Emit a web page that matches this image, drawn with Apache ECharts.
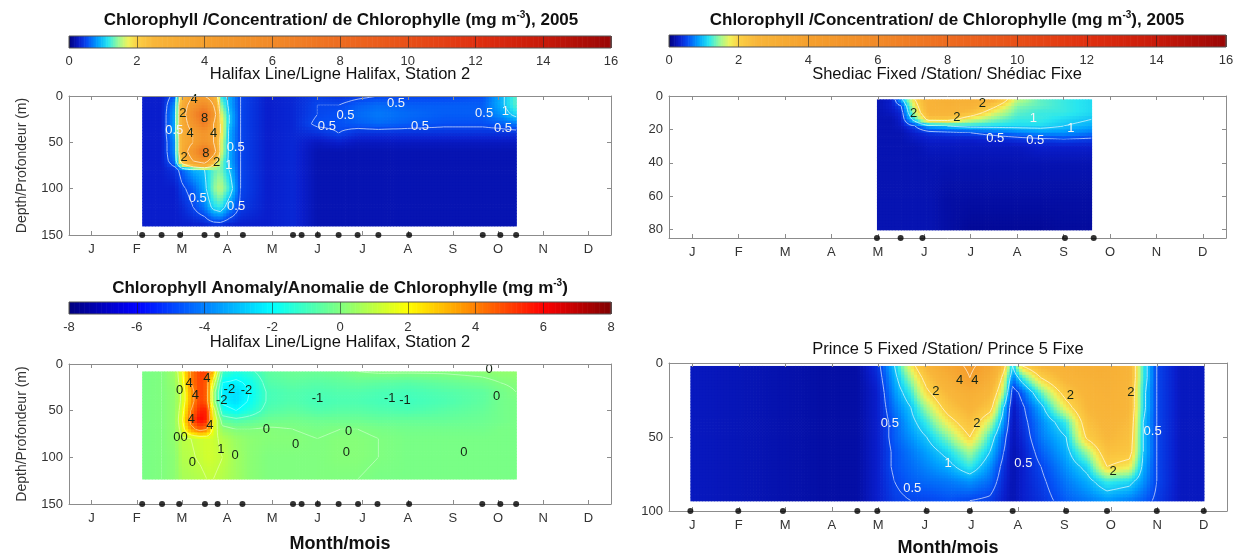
<!DOCTYPE html>
<html><head><meta charset="utf-8">
<script src="https://cdn.jsdelivr.net/npm/echarts@6/dist/echarts.min.js"></script>
<style>html,body{margin:0;padding:0;background:#fff}#c{width:1241px;height:558px}</style>
</head><body><div id="c"></div>
<script>
// ---------------- DATA ----------------
const monthLabels = ['J','F','M','A','M','J','J','A','S','O','N','D'];
const monthTicks = [0.5,1.5,2.5,3.5,4.5,5.5,6.5,7.5,8.5,9.5,10.5,11.5]; // month centres (0 = 1 Jan)
const chlBarTicks = [0,2,4,6,8,10,12,14,16];
const anoBarTicks = [-8,-6,-4,-2,0,2,4,6,8];

// Halifax Line Station 2 - chlorophyll (mg m-3); one column per date, values by depth
const hfxDates  = [1.62,2.05,2.35,2.5,2.75,3.0,3.2,3.35,3.55,3.8,4.4,4.96,5.5,5.97,6.4,6.85,7.5,8.3,9.16,9.55,9.9];
const hfxDepths = [0,10,20,30,40,50,60,70,80,100,120,140];
const hfxChl = [
  [0.3,0.3,0.3,0.3,0.3,0.3,0.3,0.3,0.3,0.3,0.3,0.3],
  [0.3,0.3,0.3,0.3,0.3,0.3,0.3,0.3,0.3,0.3,0.3,0.3],
  [0.6,0.8,0.9,0.9,0.9,0.8,0.8,0.7,0.4,0.3,0.3,0.3],
  [2.5,3,3,3,3,3,3,2.5,0.6,0.45,0.35,0.3],
  [4,5,6,5,4,4,5,4,0.9,0.6,0.5,0.3],
  [4,6,8,7,5,5,8,5,1.0,0.9,0.7,0.3],
  [3,4,5,4,4,4,5,2.5,1.3,1.4,1.1,0.35],
  [1.2,1.5,1.8,2,2,1.8,1.8,1.5,1.4,1.6,1.2,0.35],
  [0.9,0.9,1.0,1.0,0.9,0.9,0.9,0.9,1.0,1.2,0.8,0.3],
  [0.5,0.5,0.5,0.5,0.5,0.5,0.5,0.5,0.5,0.5,0.45,0.3],
  [0.3,0.3,0.3,0.3,0.3,0.3,0.3,0.3,0.3,0.3,0.3,0.3],
  [0.35,0.35,0.35,0.35,0.35,0.35,0.35,0.35,0.35,0.35,0.35,0.35],
  [0.45,0.5,0.5,0.55,0.4,0.25,0.2,0.2,0.2,0.2,0.2,0.2],
  [0.4,0.5,0.55,0.55,0.5,0.3,0.2,0.2,0.2,0.2,0.2,0.2],
  [0.45,0.6,0.65,0.6,0.4,0.25,0.2,0.2,0.2,0.2,0.2,0.2],
  [0.5,0.65,0.7,0.65,0.4,0.25,0.2,0.2,0.2,0.2,0.2,0.2],
  [0.5,0.6,0.65,0.6,0.4,0.25,0.2,0.2,0.2,0.2,0.2,0.2],
  [0.5,0.6,0.6,0.55,0.4,0.25,0.2,0.2,0.2,0.2,0.2,0.2],
  [0.55,0.6,0.6,0.55,0.4,0.25,0.2,0.2,0.2,0.2,0.2,0.2],
  [0.9,0.9,0.8,0.6,0.4,0.25,0.2,0.2,0.2,0.2,0.2,0.2],
  [1.3,1.3,1.1,0.7,0.4,0.25,0.2,0.2,0.2,0.2,0.2,0.2]
];
const hfxSamples = [1.62,2.05,2.46,3.0,3.28,3.85,4.96,5.15,5.51,5.97,6.39,6.85,7.53,9.16,9.55,9.9];
const hfxChlLabels = [
  [2.77,4,'4'],[2.52,19,'2'],[3.0,24,'8'],[2.33,37,'0.5'],[2.68,40,'4'],[3.2,40,'4'],
  [3.69,55,'0.5'],[2.55,66,'2'],[3.03,62,'8'],[3.27,72,'2'],[3.54,75,'1'],[2.85,110,'0.5'],
  [3.7,119,'0.5'],[6.12,21,'0.5'],[5.71,33,'0.5'],[7.24,8,'0.5'],[7.77,33,'0.5'],
  [9.19,19,'0.5'],[9.66,17,'1'],[9.61,35,'0.5']
];

// Shediac fixed station - chlorophyll
const shdDates  = [4.48,4.8,5.0,5.3,5.6,6.0,6.5,7.0,7.5,8.0,8.5,9.1];
const shdDepths = [2,6,10,14,18,22,26,30,40,60,80];
const shdChl = [
  [0.2,0.2,0.2,0.2,0.2,0.2,0.2,0.2,0.2,0.2,0.2],
  [0.3,0.3,0.25,0.2,0.2,0.2,0.2,0.2,0.2,0.2,0.2],
  [0.9,0.5,0.35,0.3,0.25,0.2,0.2,0.2,0.2,0.2,0.2],
  [2.0,1.8,1.6,1.2,0.5,0.3,0.25,0.2,0.2,0.2,0.2],
  [2.7,2.7,2.6,2.2,0.9,0.4,0.3,0.25,0.2,0.2,0.2],
  [2.9,2.8,2.6,2.2,1.0,0.45,0.3,0.25,0.2,0.15,0.15],
  [2.9,2.7,2.3,1.7,1.1,0.5,0.3,0.25,0.2,0.15,0.1],
  [2.6,2.1,1.7,1.4,1.1,0.6,0.35,0.25,0.2,0.15,0.1],
  [1.6,1.4,1.3,1.2,1.1,0.7,0.4,0.25,0.2,0.15,0.1],
  [1.3,1.3,1.2,1.2,1.1,0.8,0.45,0.3,0.2,0.15,0.1],
  [1.2,1.2,1.2,1.1,1.0,0.8,0.5,0.3,0.2,0.15,0.12],
  [1.1,1.1,1.1,1.0,0.9,0.7,0.45,0.3,0.2,0.15,0.12]
];
const shdSamples = [4.48,4.99,5.46,8.53,9.15];
const shdLabels = [[5.27,10.6,'2'],[6.2,13,'2'],[6.75,4.6,'2'],[7.03,25.6,'0.5'],[7.89,26.6,'0.5'],[8.66,19.6,'1'],[7.85,13.6,'1']];

// Halifax Line Station 2 - chlorophyll anomaly
const anoDates  = [1.62,2.05,2.35,2.5,2.7,2.9,3.05,3.2,3.4,3.7,4.0,4.4,4.96,5.5,6.0,6.4,6.85,7.5,8.3,9.16,9.55,9.9];
const anoDepths = [8,20,30,40,50,60,70,80,100,123];
const anoVals = [
  [-0.1,-0.1,-0.1,-0.1,-0.1,-0.1,-0.1,-0.1,-0.1,-0.1],
  [0,0,0,0,0,0,0,0,0,0],
  [0.5,0.4,0.3,0.3,0.3,0.3,0.3,0.3,0.2,0.2],
  [1.8,1.5,1.2,1.2,1.5,1.8,1.4,0.9,0.8,0.6],
  [4.0,4.0,3.5,3.5,4.0,4.5,3.5,1.0,0.9,0.7],
  [5.0,5.0,5.0,5.0,5.5,6.0,4.5,1.2,1.1,0.8],
  [5.0,4.5,4.5,4.5,5.5,5.5,4.0,1.3,1.3,1.0],
  [3.0,1.5,0.5,0.5,1.5,2.0,1.5,1.2,1.2,1.0],
  [-1.0,-2.0,-2.3,-2.2,-1.6,-0.5,0.3,0.8,1.0,0.8],
  [-1.5,-2.2,-2.5,-2.5,-2.0,-0.8,0,0.4,0.5,0.5],
  [-1.2,-1.8,-2.0,-1.9,-1.5,-0.6,0,0.2,0.2,0.2],
  [-0.5,-0.7,-0.9,-0.9,-0.7,-0.3,0.1,0.1,0,0],
  [-0.3,-0.5,-0.7,-0.7,-0.5,-0.2,0,0.1,0,0],
  [-0.3,-0.6,-0.8,-0.9,-0.7,-0.3,-0.1,0,0,0],
  [-0.2,-0.5,-0.7,-0.8,-0.6,-0.3,0,0.1,0.1,0],
  [0,-0.4,-0.7,-0.8,-0.6,-0.3,0,0.1,0.1,0],
  [0.1,-0.5,-0.8,-0.9,-0.7,-0.4,-0.1,0,0,-0.1],
  [0.1,-0.6,-0.9,-1.0,-0.8,-0.4,-0.2,-0.1,-0.1,-0.1],
  [0.1,-0.4,-0.7,-0.8,-0.6,-0.4,-0.2,-0.1,-0.1,-0.1],
  [0.2,-0.2,-0.5,-0.5,-0.4,-0.3,-0.2,-0.1,-0.1,-0.1],
  [0.3,0,-0.2,-0.2,-0.2,-0.2,-0.1,-0.1,-0.1,-0.1],
  [0.3,0.1,0,-0.1,-0.1,-0.1,-0.1,-0.1,-0.1,-0.1]
];
const anoSamples = [1.62,2.06,2.44,3.01,3.29,3.84,4.96,5.15,5.51,5.97,6.4,6.83,7.53,9.15,9.55,9.9];
const anoLabels = [
  [2.45,28,'0'],[2.66,21,'4'],[3.05,15,'4'],[2.8,34,'4'],[3.55,27,'-2'],[3.93,28,'-2'],[3.38,39,'-2'],
  [5.5,37,'-1'],[7.1,37,'-1'],[7.44,39,'-1'],[9.3,6,'0'],[9.47,35,'0'],[2.71,59,'4'],[3.12,66,'4'],
  [4.37,70,'0'],[6.19,72,'0'],[2.47,79,'00'],[5.02,86,'0'],[6.14,95,'0'],[3.36,92,'1'],[3.68,98,'0'],
  [8.74,95,'0'],[2.73,105,'0']
];

// Prince 5 fixed station - chlorophyll
const prnDates  = [0.46,1.49,2.45,3.3,4.05,4.48,4.85,5.2,5.54,6.0,6.47,6.9,7.2,7.39,7.6,8.0,8.54,9.0,9.42,9.9,10.2,10.49,11.0,11.5];
const prnDepths = [2,10,20,30,40,50,60,70,80,93];
const prnChl = [
  [0.25,0.25,0.25,0.25,0.25,0.25,0.25,0.25,0.25,0.25],
  [0.22,0.22,0.22,0.22,0.22,0.22,0.22,0.22,0.22,0.22],
  [0.18,0.18,0.18,0.18,0.18,0.18,0.18,0.18,0.18,0.18],
  [0.15,0.15,0.15,0.15,0.15,0.15,0.15,0.15,0.15,0.15],
  [0.15,0.15,0.15,0.15,0.15,0.15,0.15,0.15,0.15,0.15],
  [0.4,0.35,0.3,0.3,0.3,0.3,0.3,0.3,0.3,0.3],
  [1.0,0.9,0.8,0.7,0.6,0.6,0.55,0.55,0.5,0.45],
  [1.8,1.5,1.2,1.0,0.9,0.8,0.7,0.65,0.6,0.5],
  [2.5,2.2,1.9,1.5,1.2,1.0,0.85,0.75,0.65,0.5],
  [3.5,3.0,2.5,2.2,1.8,1.4,1.1,0.9,0.7,0.55],
  [4.2,4.0,3.0,2.6,2.3,2.0,1.5,1.2,0.8,0.5],
  [3.5,3.0,2.5,2.2,1.6,1.2,1.0,0.8,0.65,0.45],
  [2.2,1.8,1.5,1.0,0.8,0.6,0.5,0.4,0.35,0.3],
  [1.0,0.7,0.35,0.25,0.22,0.22,0.2,0.2,0.2,0.2],
  [2.0,1.2,0.6,0.45,0.4,0.35,0.3,0.3,0.3,0.3],
  [2.5,2.0,1.3,0.9,0.75,0.7,0.6,0.5,0.45,0.4],
  [2.8,2.6,2.2,1.8,1.2,1.0,0.9,0.8,0.7,0.6],
  [3.0,2.8,2.6,2.5,2.3,2.1,1.5,1.1,0.9,0.7],
  [3.0,2.9,2.8,2.7,2.6,2.5,2.3,2.0,1.2,0.8],
  [2.6,2.6,2.5,2.5,2.4,2.3,2.2,1.8,1.1,0.7],
  [1.2,1.2,1.1,1.1,1.0,1.0,1.0,0.9,0.8,0.6],
  [0.5,0.5,0.5,0.5,0.5,0.5,0.5,0.5,0.5,0.45],
  [0.25,0.25,0.25,0.25,0.25,0.25,0.25,0.25,0.25,0.25],
  [0.25,0.25,0.25,0.25,0.25,0.25,0.25,0.25,0.25,0.25]
];
const prnSamples = [0.46,1.49,2.45,4.05,4.48,5.54,6.47,7.39,8.54,9.42,10.49,11.5];
const prnLabels = [
  [4.75,41,'0.5'],[5.23,85,'0.5'],[6.0,68,'1'],[5.74,19,'2'],[6.25,12,'4'],[6.58,12,'4'],[6.62,41,'2'],
  [7.62,68,'0.5'],[8.63,22,'2'],[9.93,20,'2'],[9.55,73,'2'],[10.4,46,'0.5']
];

// ---------------- COLOUR MAPS ----------------
const chlStops = [[0,'#00007e'],[0.3,'#0a1ecc'],[0.55,'#0550f5'],[0.85,'#00a2ff'],[1.15,'#28e6f0'],[1.45,'#98fa98'],[1.75,'#f2f25a'],[2.0,'#fcd044'],[2.5,'#f8b63a'],[4,'#f5a02e'],[6,'#f28a28'],[8,'#ee6c20'],[10,'#e85018'],[12,'#e03010'],[14,'#c81a0a'],[16,'#9a0606']];
const jetStops = [[-8,'#00007f'],[-6,'#0000ff'],[-2,'#00ffff'],[2,'#ffff00'],[6,'#ff0000'],[8,'#7f0000']];
function hex(c){return [parseInt(c.slice(1,3),16),parseInt(c.slice(3,5),16),parseInt(c.slice(5,7),16)];}
function makeCmap(stops){
  const s = stops.map(p=>[p[0],hex(p[1])]);
  return function(v){
    if(v<=s[0][0]) {const c=s[0][1];return 'rgb('+c.join(',')+')';}
    if(v>=s[s.length-1][0]) {const c=s[s.length-1][1];return 'rgb('+c.join(',')+')';}
    for(let k=0;k<s.length-1;k++){
      if(v<=s[k+1][0]){
        const t=(v-s[k][0])/(s[k+1][0]-s[k][0]);
        const a=s[k][1],b=s[k+1][1];
        return 'rgb('+Math.round(a[0]+(b[0]-a[0])*t)+','+Math.round(a[1]+(b[1]-a[1])*t)+','+Math.round(a[2]+(b[2]-a[2])*t)+')';
      }
    }
  };
}
const chlCmap = makeCmap(chlStops), jetCmap = makeCmap(jetStops);

// ---------------- HELPERS ----------------
const FONT = "'Liberation Sans', Arial, Helvetica, sans-serif";
const AX = '#8c8c8c';
function cells(xs, ds, vals){
  const out=[];
  for(let i=0;i<xs.length-1;i++) for(let j=0;j<ds.length-1;j++)
    out.push([xs[i],ds[j],xs[i+1],ds[j+1],vals[i][j],vals[i+1][j],vals[i][j+1],vals[i+1][j+1]]);
  return out;
}
function fieldRender(cmap, levels, lineColor){
  return function(params, api){
    const xa=api.value(0), ya=api.value(1), xb=api.value(2), yb=api.value(3);
    const a=api.value(4), b=api.value(5), c=api.value(6), d=api.value(7);
    const p0=api.coord([xa,ya]), p1=api.coord([xb,yb]);
    const W=p1[0]-p0[0], H=p1[1]-p0[1];
    const nx=Math.max(1,Math.round(Math.abs(W)/3)), ny=Math.max(1,Math.round(Math.abs(H)/3));
    const f=(u,v)=>a*(1-u)*(1-v)+b*u*(1-v)+c*(1-u)*v+d*u*v;
    const kids=[];
    for(let j=0;j<ny;j++) for(let i=0;i<nx;i++){
      kids.push({type:'rect',silent:true,
        shape:{x:p0[0]+W*i/nx,y:p0[1]+H*j/ny,width:W/nx+0.7,height:H/ny+0.7},
        style:{fill:cmap(f((i+0.5)/nx,(j+0.5)/ny))}});
    }
    const N=[];
    for(let j=0;j<=ny;j++){const r=[];for(let i=0;i<=nx;i++) r.push(f(i/nx,j/ny));N.push(r);}
    const X=i=>p0[0]+W*i/nx, Y=j=>p0[1]+H*j/ny;
    let path='';
    for(const L of levels){
      for(let j=0;j<ny;j++) for(let i=0;i<nx;i++){
        const q=[N[j][i],N[j][i+1],N[j+1][i+1],N[j+1][i]];
        const P=[[X(i),Y(j)],[X(i+1),Y(j)],[X(i+1),Y(j+1)],[X(i),Y(j+1)]];
        const pts=[];
        for(let e=0;e<4;e++){
          const qa=q[e], qb=q[(e+1)%4];
          if((qa<L)!==(qb<L)){
            const t=(L-qa)/(qb-qa), A=P[e], B=P[(e+1)%4];
            pts.push([A[0]+(B[0]-A[0])*t, A[1]+(B[1]-A[1])*t]);
          }
        }
        for(let k=0;k+1<pts.length;k+=2)
          path+='M'+pts[k][0].toFixed(1)+' '+pts[k][1].toFixed(1)+'L'+pts[k+1][0].toFixed(1)+' '+pts[k+1][1].toFixed(1);
      }
    }
    if(path) kids.push({type:'path',silent:true,shape:{pathData:path},style:{fill:null,stroke:lineColor,lineWidth:0.9}});
    return {type:'group',children:kids};
  };
}
function labelRender(list, whiteSet, dark){
  return function(params, api){
    const p=api.coord([api.value(0),api.value(1)]);
    const t=list[params.dataIndex][2];
    return {type:'text',silent:true,x:p[0],y:p[1],
      style:{text:t,fill:whiteSet.indexOf(t)>=0?'#f4f4f4':dark,font:'13px '+FONT,align:'center',verticalAlign:'middle',textAlign:'center',textVerticalAlign:'middle'}};
  };
}
function barSteps(lo,hi,step){const o=[];for(let v=lo;v<hi-1e-9;v+=step)o.push([v,v+step]);return o;}

// ---------------- LAYOUT ----------------
const plots = [
  {left:69,top:96,width:542,height:139,ymax:150,yticks:[0,50,100,150],yname:true},
  {left:669,top:96,width:557,height:142,ymax:85,yticks:[0,20,40,60,80],yname:false},
  {left:69,top:364,width:542,height:140,ymax:150,yticks:[0,50,100,150],yname:true},
  {left:669,top:363,width:558,height:148,ymax:100,yticks:[0,50,100],yname:false}
];
const bars = [
  {left:69,top:36,width:542,height:12,lo:0,hi:16,cmap:chlCmap},
  {left:669,top:35,width:557,height:12,lo:0,hi:16,cmap:chlCmap},
  {left:69,top:302,width:542,height:12,lo:-8,hi:8,cmap:jetCmap}
];
const grid=[], xAxis=[], yAxis=[], series=[];
plots.forEach((p,g)=>{
  grid.push({left:p.left,top:p.top,width:p.width,height:p.height,containLabel:false});
  const tickStyle={color:AX,width:1};
  xAxis.push({gridIndex:g,type:'value',min:0,max:12,position:'bottom',z:5,
    axisLine:{show:true,onZero:false,lineStyle:tickStyle},
    axisTick:{show:true,inside:true,length:4,customValues:monthTicks,lineStyle:tickStyle},
    axisLabel:{show:true,customValues:monthTicks,formatter:v=>monthLabels[Math.floor(v)],color:'#333',fontSize:13,fontFamily:FONT,margin:8},
    splitLine:{show:false}});
  xAxis.push({gridIndex:g,type:'value',min:0,max:12,position:'top',z:5,
    axisLine:{show:true,onZero:false,lineStyle:tickStyle},
    axisTick:{show:true,inside:true,length:4,customValues:monthTicks,lineStyle:tickStyle},
    axisLabel:{show:false},splitLine:{show:false}});
  yAxis.push({gridIndex:g,type:'value',min:0,max:p.ymax,inverse:true,position:'left',z:5,
    name:p.yname?'Depth/Profondeur (m)':'',nameLocation:'middle',nameGap:40,
    nameTextStyle:{fontSize:14,color:'#333',fontFamily:FONT},
    axisLine:{show:true,onZero:false,lineStyle:tickStyle},
    axisTick:{show:true,inside:true,length:4,customValues:p.yticks,lineStyle:tickStyle},
    axisLabel:{show:true,customValues:p.yticks,color:'#333',fontSize:13,fontFamily:FONT,margin:6},
    splitLine:{show:false}});
  yAxis.push({gridIndex:g,type:'value',min:0,max:p.ymax,inverse:true,position:'right',z:5,
    axisLine:{show:true,onZero:false,lineStyle:tickStyle},
    axisTick:{show:true,inside:true,length:4,customValues:p.yticks,lineStyle:tickStyle},
    axisLabel:{show:false},splitLine:{show:false}});
});
bars.forEach((b,k)=>{
  const g=plots.length+k;
  grid.push({left:b.left,top:b.top,width:b.width,height:b.height});
  xAxis.push({gridIndex:g,type:'value',min:b.lo,max:b.hi,interval:2,position:'bottom',z:5,
    axisLine:{show:false},axisTick:{show:false},
    axisLabel:{show:true,color:'#333',fontSize:13,fontFamily:FONT,margin:7,showMinLabel:true,showMaxLabel:true},
    splitLine:{show:true,lineStyle:{color:'rgba(30,30,30,0.55)',width:1}}});
  yAxis.push({gridIndex:g,type:'value',min:0,max:1,show:false});
  const xi=xAxis.length-1, yi=yAxis.length-1;
  series.push({type:'custom',xAxisIndex:xi,yAxisIndex:yi,silent:true,data:barSteps(b.lo,b.hi,0.05),
    renderItem:function(params,api){
      const v0=api.value(0), v1=api.value(1);
      const p0=api.coord([v0,1]), p1=api.coord([v1,0]);
      return {type:'rect',shape:{x:p0[0],y:p0[1],width:p1[0]-p0[0]+0.6,height:p1[1]-p0[1]},style:{fill:b.cmap((v0+v1)/2)}};
    }});
  series.push({type:'custom',xAxisIndex:xi,yAxisIndex:yi,silent:true,z:6,data:[[b.lo,b.hi]],
    renderItem:function(params,api){
      const p0=api.coord([api.value(0),1]), p1=api.coord([api.value(1),0]);
      return {type:'rect',shape:{x:p0[0],y:p0[1],width:p1[0]-p0[0],height:p1[1]-p0[1]},style:{fill:null,stroke:'#555',lineWidth:1}};
    }});
});

const panels = [
  {g:0,dates:hfxDates,depths:hfxDepths,vals:hfxChl,cmap:chlCmap,levels:[0.5,1,2,4,8],line:'rgba(255,255,255,0.7)',samples:hfxSamples,labels:hfxChlLabels,white:['0.5','1']},
  {g:1,dates:shdDates,depths:shdDepths,vals:shdChl,cmap:chlCmap,levels:[0.5,1,2],line:'rgba(255,255,255,0.7)',samples:shdSamples,labels:shdLabels,white:['0.5','1']},
  {g:2,dates:anoDates,depths:anoDepths,vals:anoVals,cmap:jetCmap,levels:[-2,-1,0,1,2,4],line:'rgba(255,255,255,0.45)',samples:anoSamples,labels:anoLabels,white:[]},
  {g:3,dates:prnDates,depths:prnDepths,vals:prnChl,cmap:chlCmap,levels:[0.5,1,2,4],line:'rgba(255,255,255,0.7)',samples:prnSamples,labels:prnLabels,white:['0.5','1']}
];
panels.forEach(P=>{
  const xi=2*P.g, yi=2*P.g, ymax=plots[P.g].ymax;
  series.push({type:'custom',xAxisIndex:xi,yAxisIndex:yi,silent:true,z:2,
    data:cells(P.dates,P.depths,P.vals),encode:{x:[0,2],y:[1,3]},
    renderItem:fieldRender(P.cmap,P.levels,P.line)});
  series.push({type:'custom',xAxisIndex:xi,yAxisIndex:yi,silent:true,z:4,
    data:P.labels.map(l=>[l[0],l[1]]),encode:{x:0,y:1},
    renderItem:labelRender(P.labels,P.white,'#142414')});
  series.push({type:'scatter',xAxisIndex:xi,yAxisIndex:yi,silent:true,z:10,clip:false,
    symbol:'circle',symbolSize:6,itemStyle:{color:'#000'},
    data:P.samples.map(d=>[d,ymax])});
});

function txt(x,y,text,font,rich){
  const st={text:text,font:font,fill:'#111',align:'center',verticalAlign:'middle',textAlign:'center',textVerticalAlign:'middle'};
  if(rich) st.rich=rich;
  return {type:'text',x:x,y:y,silent:true,style:st};
}
const titleRich={a:{fontSize:17,fontWeight:'bold',fontFamily:FONT,color:'#111',lineHeight:20},
                 s:{fontSize:10,fontWeight:'bold',fontFamily:FONT,color:'#111',verticalAlign:'top',lineHeight:20}};
const chlTitle='{a|Chlorophyll /Concentration/ de Chlorophylle (mg m}{s|-3}{a|), 2005}';
const anoTitle='{a|Chlorophyll Anomaly/Anomalie de Chlorophylle (mg m}{s|-3}{a|)}';
const graphic=[
  txt(341,20,chlTitle,'bold 17px '+FONT,titleRich),
  txt(947,20,chlTitle,'bold 17px '+FONT,titleRich),
  txt(340,74,'Halifax Line/Ligne Halifax, Station 2','16.5px '+FONT),
  txt(947,74,'Shediac Fixed /Station/ Shédiac Fixe','16.5px '+FONT),
  txt(340,288,anoTitle,'bold 17px '+FONT,titleRich),
  txt(340,342,'Halifax Line/Ligne Halifax, Station 2','16.5px '+FONT),
  txt(948,349,'Prince 5 Fixed /Station/ Prince 5 Fixe','16.5px '+FONT),
  txt(340,544,'Month/mois','bold 18px '+FONT),
  txt(948,548,'Month/mois','bold 18px '+FONT)
];

const chart=echarts.init(document.getElementById('c'),null,{renderer:'canvas'});
chart.setOption({animation:false,backgroundColor:'#fff',grid,xAxis,yAxis,series,graphic:{elements:graphic}});
</script></body></html>
